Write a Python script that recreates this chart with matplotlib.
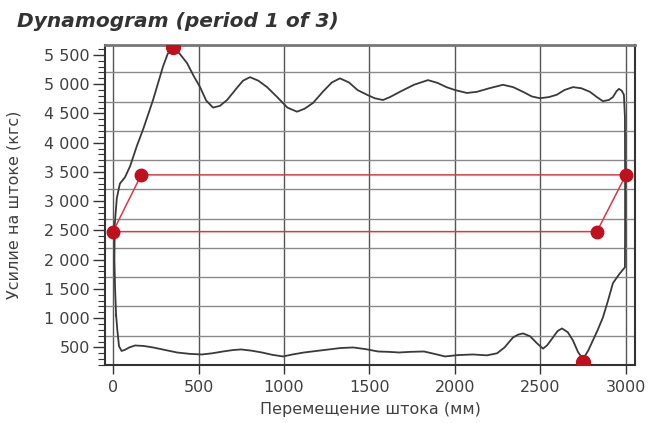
import matplotlib
matplotlib.use('Agg')
import matplotlib.pyplot as plt
from matplotlib.ticker import FixedLocator, FuncFormatter, MultipleLocator

# Dynamogram loop (mm, kgf), traced clockwise from bottom-left
stroke = [18, 12, 8, 10, 22, 40, 70, 100, 140, 175, 234, 292, 320, 351,
          390, 433, 470, 509, 545, 585, 625, 667, 720, 760, 801, 850, 901,
          960, 1020, 1076, 1120, 1170, 1230, 1280, 1327, 1380, 1430, 1485,
          1530, 1579, 1620, 1678, 1760, 1842, 1900, 1950, 2000, 2070, 2129,
          2200, 2281, 2340, 2398, 2450, 2497, 2550, 2596, 2640, 2690, 2740,
          2789, 2830, 2865, 2900, 2924, 2945, 2959, 2975, 2988, 2994, 2995,
          2995, 2994, 2960, 2924, 2895, 2865, 2835, 2807, 2780, 2749, 2720,
          2690, 2660, 2626, 2600, 2573, 2540, 2515, 2480, 2440, 2398, 2370,
          2339, 2290, 2246, 2187, 2105, 2020, 1942, 1880, 1819, 1740, 1673,
          1610, 1550, 1480, 1404, 1330, 1263, 1190, 1117, 1050, 994, 930,
          871, 810, 749, 700, 643, 580, 520, 450, 374, 300, 234, 180, 129,
          95, 70, 50, 35, 25, 18]
load = [1050, 1500, 2000, 2600, 3050, 3300, 3410, 3600, 3950, 4220, 4730,
        5300, 5520, 5620, 5520, 5360, 5150, 4950, 4720, 4600, 4630, 4730,
        4920, 5060, 5120, 5060, 4950, 4780, 4600, 4530, 4580, 4680, 4880,
        5030, 5100, 5030, 4900, 4820, 4760, 4730, 4780, 4870, 4990, 5070,
        5020, 4950, 4900, 4850, 4870, 4930, 4990, 4950, 4870, 4790, 4760,
        4780, 4820, 4900, 4950, 4930, 4870, 4780, 4710, 4730, 4780, 4880,
        4920, 4890, 4820, 4440, 3500, 2500, 1870, 1750, 1600, 1300, 1010,
        800, 620, 450, 300, 420, 620, 760, 825, 780, 670, 540, 480, 570,
        690, 740, 720, 670, 500, 400, 365, 380, 370, 346, 390, 431, 425,
        414, 425, 431, 470, 500, 490, 466, 440, 414, 380, 346, 375, 414,
        445, 466, 455, 431, 400, 380, 390, 414, 460, 500, 525, 534, 500,
        460, 440, 520, 800, 1050]

# valve open/close polygon
valve_x = [0, 165, 3000, 2830, 0]
valve_y = [2480, 3450, 3450, 2480, 2480]

# extreme points
peak_x, peak_y = [350], [5640]
min_x, min_y = [2750], [250]

fig = plt.figure(figsize=(6.5, 4.23), dpi=100)
ax = fig.add_axes([105 / 650, 1 - 365 / 423, 530 / 650, 320 / 423])

ax.set_xlim(-47, 3053)
ax.set_ylim(200, 5670)

# grid
for gx in range(0, 3001, 500):
    ax.axvline(gx, color='#555555', lw=1.0, zorder=1)
for gy in range(700, 5300, 500):
    ax.axhline(gy, color='#8a8a8a', lw=1.0, zorder=1)

ax.plot(valve_x, valve_y, color='#d8384a', lw=1.1, zorder=2)
ax.plot(stroke, load, color='#3a3a3a', lw=1.3, zorder=3)
ax.plot(valve_x[:4], valve_y[:4], 'o', color='#c0101e', ms=9, zorder=4)
ax.plot(peak_x, peak_y, 'o', color='#c0101e', ms=10, zorder=4)
ax.plot(min_x, min_y, 'o', color='#c0101e', ms=10, zorder=4)

ax.xaxis.set_major_locator(FixedLocator(range(0, 3001, 500)))
ax.yaxis.set_major_locator(FixedLocator(range(500, 5501, 500)))
ax.yaxis.set_minor_locator(MultipleLocator(100))
ax.yaxis.set_major_formatter(
    FuncFormatter(lambda v, p: f'{int(v):,}'.replace(',', ' ')))

ax.tick_params(axis='both', which='major', labelsize=11.5,
               labelcolor='#404040', color='#333333', width=1.0)
ax.tick_params(axis='y', which='major', length=8.5, pad=2.5)
ax.tick_params(axis='y', which='minor', length=5, width=0.8, color='#333333')
ax.tick_params(axis='x', which='major', length=6.5, pad=4)

for side in ['left', 'bottom', 'right']:
    ax.spines[side].set_color('#333333')
    ax.spines[side].set_linewidth(1.5)
ax.spines['top'].set_color('#777777')
ax.spines['top'].set_linewidth(2)

ax.set_xlabel('Перемещение штока (мм)', fontsize=11.5, color='#404040')
ax.set_ylabel('Усилие на штоке (кгс)', fontsize=11.5, color='#404040')
ax.xaxis.set_label_coords(0.5, -0.115)
ax.yaxis.set_label_coords(-0.157, 0.5)

fig.text(17 / 650, 1 - 27 / 423, 'Dynamogram (period 1 of 3)',
         fontsize=14.5, fontweight='bold', fontstyle='italic',
         color='#333333', va='baseline', ha='left')

fig.savefig('out.png', dpi=100)
